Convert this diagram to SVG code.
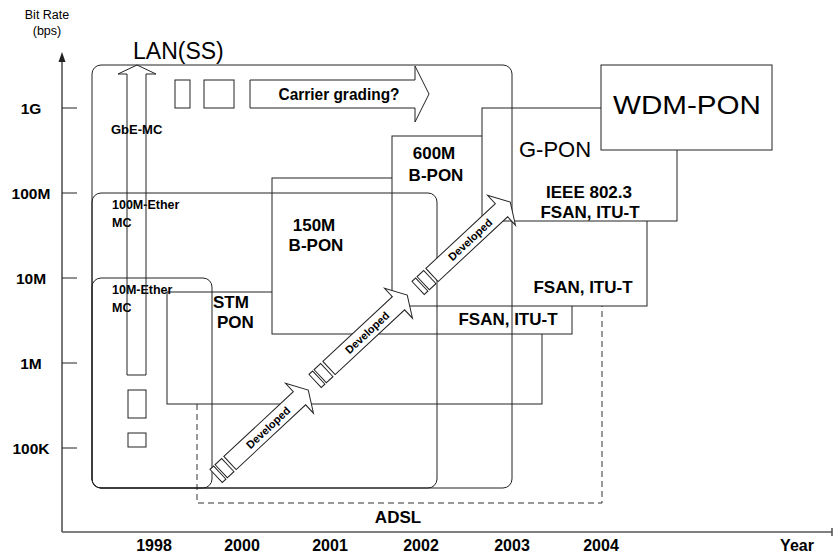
<svg xmlns="http://www.w3.org/2000/svg" width="833" height="556" viewBox="0 0 833 556">
<defs>
<style>
.ln{fill:none;stroke:#222;stroke-width:1}
.box{fill:#fff;stroke:#222;stroke-width:1}
.lan{fill:none;stroke:#222;stroke-width:1}
.dash{fill:none;stroke:#333;stroke-width:1;stroke-dasharray:6,4}
.ax{fill:none;stroke:#555;stroke-width:1.6}
.dev{fill:#fff;stroke:#222;stroke-width:1}
text{font-family:"Liberation Sans",Arial,sans-serif;fill:#000}
.b{font-weight:bold}
.m{text-anchor:middle}
.yl{font-size:15.5px;font-weight:bold;text-anchor:middle}
.xl{font-size:16px;font-weight:bold;text-anchor:middle}
.lab{font-size:17px;font-weight:bold}
.sm{font-size:12.5px;font-weight:bold}
.devt{font-size:11px;font-weight:bold;text-anchor:middle}
</style>
</defs>
<rect width="833" height="556" fill="#fff"/>

<g id="axes">
<line x1="62" y1="532" x2="62" y2="60" class="ax"/>
<polygon points="62,52 58.5,62 65.5,62" fill="#222"/>
<line x1="62" y1="532" x2="832" y2="532" class="ax"/>
<line x1="832" y1="528" x2="832" y2="536" class="ax"/>
<g class="ln">
<line x1="62" y1="108" x2="77" y2="108"/>
<line x1="62" y1="193" x2="77" y2="193"/>
<line x1="62" y1="278" x2="77" y2="278"/>
<line x1="62" y1="363" x2="77" y2="363"/>
<line x1="62" y1="448" x2="77" y2="448"/>
</g>
<text x="47" y="19" font-size="12.5" class="m">Bit Rate</text>
<text x="47" y="35" font-size="12.5" class="m">(bps)</text>
<text x="31" y="113.5" class="yl">1G</text>
<text x="31" y="198.5" class="yl">100M</text>
<text x="31" y="283.5" class="yl">10M</text>
<text x="31" y="368.5" class="yl">1M</text>
<text x="31" y="453.5" class="yl">100K</text>
<text x="154" y="551" class="xl">1998</text>
<text x="242" y="551" class="xl">2000</text>
<text x="330" y="551" class="xl">2001</text>
<text x="421" y="551" class="xl">2002</text>
<text x="512" y="551" class="xl">2003</text>
<text x="601" y="551" class="xl">2004</text>
<text x="797" y="551" class="xl">Year</text>
</g>

<g id="adsl">
<path d="M197,404 V503 H602 V306" class="dash"/>
<text x="398" y="523" class="lab m">ADSL</text>
</g>

<g id="stm-pon">
<rect x="167" y="292" width="375" height="112" class="box"/>
<text x="213" y="308" class="lab">STM</text>
<text x="217" y="328" class="lab">PON</text>
</g>

<g id="b-pon-150">
<rect x="272" y="178" width="300" height="156" class="box"/>
<text x="314" y="231" class="lab m">150M</text>
<text x="316" y="251" class="lab m">B-PON</text>
<text x="508" y="325" class="lab m">FSAN, ITU-T</text>
</g>

<g id="b-pon-600">
<rect x="392" y="136" width="255" height="170" class="box"/>
<text x="434" y="159" class="lab m">600M</text>
<text x="436" y="181" class="lab m">B-PON</text>
<text x="583" y="293" class="lab m">FSAN, ITU-T</text>
</g>

<g id="g-pon">
<rect x="482" y="108" width="195" height="113" class="box"/>
<text x="519" y="157" font-size="22">G-PON</text>
<text x="589" y="198" class="lab m">IEEE 802.3</text>
<text x="590" y="218" class="lab m">FSAN, ITU-T</text>
</g>

<g id="wdm-pon">
<rect x="601" y="65" width="171" height="85" class="box"/>
<text x="687" y="114" font-size="25" class="m" textLength="148" lengthAdjust="spacingAndGlyphs">WDM-PON</text>
</g>

<g id="lan-ss">
<rect x="92" y="65" width="420" height="423" rx="9" class="lan"/>
<text x="133" y="59" font-size="23">LAN(SS)</text>
<rect x="175" y="80" width="15" height="28" class="ln"/>
<rect x="204" y="80" width="30" height="28" class="ln"/>
<rect x="128" y="390" width="18" height="28" class="ln"/>
<rect x="128" y="433" width="18" height="14" class="ln"/>
</g>

<g id="ether-100m">
<rect x="92" y="193" width="345" height="295" rx="9" class="lan"/>
<text x="112" y="209" class="sm">100M-Ether</text>
<text x="112" y="227" class="sm">MC</text>
</g>

<g id="ether-10m">
<rect x="92" y="278" width="120" height="210" rx="9" class="lan"/>
<text x="112" y="294" class="sm">10M-Ether</text>
<text x="112" y="311.5" class="sm">MC</text>
</g>

<g id="gbe-mc">
<polygon points="127,375 127,74 118,74 137,65 156,74 146,74 146,375" class="ln"/>
<text x="111" y="134" font-size="13" class="b">GbE-MC</text>
</g>

<g id="carrier-grading">
<polygon points="250,80 415,80 415,66 429,94 415,122 415,108 250,108" class="ln"/>
<text x="339" y="100" font-size="17" class="b m" textLength="121" lengthAdjust="spacingAndGlyphs">Carrier grading?</text>
</g>

<g id="connectors">
<g id="dev1" transform="translate(230,463) rotate(-43)">
<rect x="-19" y="-9" width="5" height="18" class="dev"/>
<rect x="-12" y="-9" width="9" height="18" class="dev"/>
<polygon points="0,-9 95,-9 95,-20.5 107,0 95,20.5 95,9 0,9" class="dev"/>
<text x="52" y="4" class="devt">Developed</text>
</g>
<g id="dev2" transform="translate(329,368) rotate(-43)">
<rect x="-19" y="-9" width="5" height="18" class="dev"/>
<rect x="-12" y="-9" width="9" height="18" class="dev"/>
<polygon points="0,-9 95,-9 95,-20.5 107,0 95,20.5 95,9 0,9" class="dev"/>
<text x="52" y="4" class="devt">Developed</text>
</g>
<g id="dev3" transform="translate(432,275) rotate(-43)">
<rect x="-19" y="-9" width="5" height="18" class="dev"/>
<rect x="-12" y="-9" width="9" height="18" class="dev"/>
<polygon points="0,-9 95,-9 95,-20.5 107,0 95,20.5 95,9 0,9" class="dev"/>
<text x="52" y="4" class="devt">Developed</text>
</g>
</g>
</svg>
